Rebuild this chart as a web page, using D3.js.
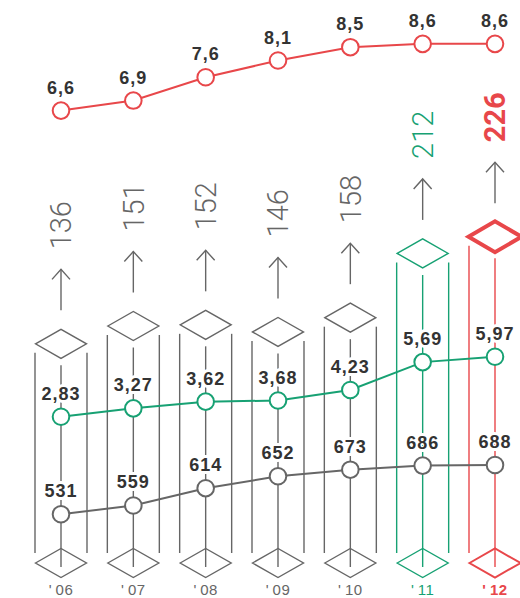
<!DOCTYPE html>
<html>
<head>
<meta charset="utf-8">
<script src="https://cdn.jsdelivr.net/npm/d3@7"></script>
<style>
  html, body { margin: 0; padding: 0; background: #fff; }
  svg { display: block; }
</style>
</head>
<body>
<div id="chart"></div>
<script>
// data
const years = ["06", "07", "08", "09", "10", "11", "12"];
const topValues = [136, 151, 152, 146, 158, 212, 226];
const redValues = [6.6, 6.9, 7.6, 8.1, 8.5, 8.6, 8.6];
const greenValues = [2.83, 3.27, 3.62, 3.68, 4.23, 5.69, 5.97];
const grayValues = [531, 559, 614, 652, 673, 686, 688];

const width = 520;
const height = 598;

const GRAY = '#666666';
const GREEN = '#17a173';
const RED = '#e8474a';
const colColor = i => i === 5 ? GREEN : (i === 6 ? RED : GRAY);

const locale = d3.formatLocale({ decimal: ',', thousands: '.', grouping: [3], currency: ['', ''] });
const fmt1 = locale.format('.1f');
const fmt2 = locale.format('.2f');
const fmt0 = locale.format('d');

const svg = d3.select('#chart')
  .append('svg')
  .attr('width', width)
  .attr('height', height);

// scales
const x = d3.scalePoint().domain(years).range([61, 495]);
const yTop = d3.scaleLinear().domain([130, 230]).range([351, 232]);
const yRed = d3.scaleLinear().domain([6, 9]).range([130.6, 30.5]);
const yGreen = d3.scaleLinear().domain([2, 6]).range([432.6, 356.2]);
const yGray = d3.scaleLinear().domain([500, 700]).range([524, 461.2]);

const halfW = 25.5, halfH = 14.5;
const bottomY = 563;
const diamond = (cx, cy, w, h) => `M${cx - w},${cy}L${cx},${cy - h}L${cx + w},${cy}L${cx},${cy + h}Z`;

// columns
const cols = svg.append('g')
  .selectAll('g')
  .data(years)
  .join('g');

cols.each(function (yr, i) {
  const g = d3.select(this);
  const cx = x(yr);
  const cy = yTop(topValues[i]);
  const c = colColor(i);
  const last = i === 6;

  // outer rails
  [-26, 26].forEach(dx => {
    g.append('line')
      .attr('x1', cx + dx).attr('x2', cx + dx)
      .attr('y1', cy + 9).attr('y2', bottomY - 10)
      .attr('stroke', c).attr('stroke-width', 1.4);
  });

  // centre line
  g.append('line')
    .attr('x1', cx).attr('x2', cx)
    .attr('y1', cy + halfH + 7).attr('y2', bottomY + 4)
    .attr('stroke', c).attr('stroke-width', 1.4);

  // top diamond
  g.append('path')
    .attr('d', last ? diamond(cx, cy, 26.5, 15.5) : diamond(cx, cy, halfW, halfH))
    .attr('fill', 'none')
    .attr('stroke', c)
    .attr('stroke-width', last ? 4 : 1.4);

  // arrow
  const a0 = cy - halfH - 19;
  const a1 = a0 - 41;
  g.append('line')
    .attr('x1', cx).attr('x2', cx)
    .attr('y1', a0).attr('y2', a1)
    .attr('stroke', GRAY).attr('stroke-width', 1.4);
  g.append('path')
    .attr('d', `M${cx - 9},${a1 + 10}L${cx},${a1}L${cx + 9},${a1 + 10}`)
    .attr('fill', 'none')
    .attr('stroke', GRAY).attr('stroke-width', 1.4);

  // rotated value
  g.append('text')
    .attr('transform', `translate(${cx},${a1 - 20}) rotate(-90)`)
    .attr('dy', '0.36em')
    .attr('text-anchor', 'start')
    .attr('font-family', 'Roboto, "Liberation Sans", sans-serif')
    .attr('font-weight', last ? 700 : 300)
    .attr('font-size', 29)
    .attr('fill', i >= 5 ? c : GRAY)
    .text(fmt0(topValues[i]));

  // bottom diamond
  g.append('path')
    .attr('d', diamond(cx, bottomY, halfW, halfH))
    .attr('fill', 'none')
    .attr('stroke', c)
    .attr('stroke-width', last ? 2 : 1.4);

  // year label
  g.append('text')
    .attr('x', cx)
    .attr('y', 595)
    .attr('text-anchor', 'middle')
    .attr('font-family', '"Liberation Sans", Arial, sans-serif')
    .attr('font-weight', last ? 700 : 400)
    .attr('font-size', 15)
    .attr('letter-spacing', 0.5)
    .attr('fill', c)
    .text("'\u2009" + yr);
});

// series lines
function drawSeries(values, y, color, fmt) {
  const pts = values.map((v, i) => [x(years[i]), y(v)]);
  svg.append('path')
    .datum(pts)
    .attr('fill', 'none')
    .attr('stroke', color)
    .attr('stroke-width', 2)
    .attr('d', d3.line());

  svg.append('g')
    .selectAll('text')
    .data(values)
    .join('text')
    .attr('x', (d, i) => x(years[i]))
    .attr('y', d => y(d) - 17)
    .attr('text-anchor', 'middle')
    .attr('font-family', '"Liberation Sans", Arial, sans-serif')
    .attr('font-weight', 700)
    .attr('font-size', 18)
    .attr('letter-spacing', 1)
    .attr('fill', '#333')
    .attr('stroke', '#fff')
    .attr('stroke-width', 6)
    .attr('paint-order', 'stroke')
    .text(d => fmt(d));

  svg.append('g')
    .selectAll('circle')
    .data(values)
    .join('circle')
    .attr('cx', (d, i) => x(years[i]))
    .attr('cy', d => y(d))
    .attr('r', 8.3)
    .attr('fill', '#fff')
    .attr('stroke', color)
    .attr('stroke-width', 2);
}

drawSeries(grayValues, yGray, GRAY, fmt0);
drawSeries(greenValues, yGreen, GREEN, fmt2);
drawSeries(redValues, yRed, RED, fmt1);
</script>
</body>
</html>
